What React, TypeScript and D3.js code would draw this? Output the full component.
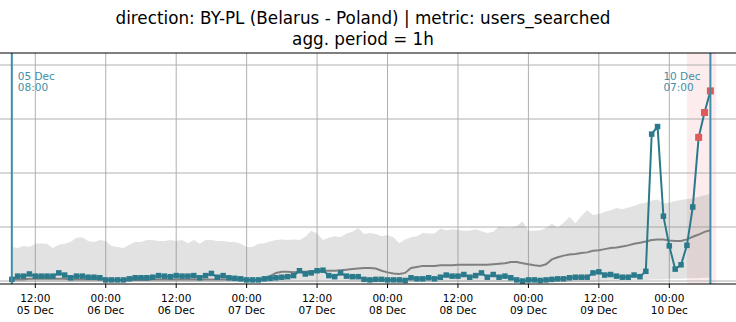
import React from "react";
import * as d3 from "d3";

const W = 736;
const H = 322;

const TITLE_LINES = [
  "direction: BY-PL (Belarus - Poland) | metric: users_searched",
  "agg. period = 1h",
];

// hourly series starting 05 Dec 08:00
const START_TIME = Date.UTC(2024, 11, 5, 8);
const HOUR = 3600 * 1000;

const actualValues = [
  3, 9, 9, 13, 9, 9, 9, 9, 15, 11,
  6, 9, 9, 7, 7, 6, 2, 2, 2, 2,
  4, 6, 6, 6, 7, 10, 9, 8, 10, 9,
  9, 10, 6, 10, 14, 7, 10, 6, 5, 4,
  2, 2, 2, 4, 5, 6, 7, 8, 10, 19,
  13, 15, 19, 20, 10, 8, 15, 9, 8, 8,
  3, 2, 3, 3, 2, 2, 2, 1, 6, 4,
  4, 6, 4, 7, 11, 9, 9, 12, 7, 10,
  15, 7, 12, 7, 9, 6, 2, 0, 2, 2,
  1, 2, 3, 4, 4, 6, 7, 7, 7, 15,
  17, 11, 12, 9, 7, 7, 11, 8, 18, 272,
  286, 120, 65, 22, 30, 66, 137, 266, 312, 352,
];

const expectedValues = [
  3, 3, 3, 4, 4, 4, 4, 4, 4, 4,
  3, 3, 3, 3, 3, 3, 3, 2, 2, 2,
  2, 2, 2, 2, 3, 3, 3, 3, 3, 3,
  3, 3, 3, 3, 3, 3, 3, 3, 3, 3,
  2, 2, 2, 3, 9, 15, 17, 17, 16, 17,
  17, 18, 18, 19, 19, 19, 20, 21, 22, 23,
  24, 24, 23, 19, 16, 14, 13, 15, 24, 26,
  28, 28, 28, 29, 29, 29, 30, 30, 30, 30,
  30, 30, 31, 32, 33, 35, 35, 33, 31, 29,
  28, 31, 40, 44, 47, 49, 50, 52, 53, 56,
  57, 59, 61, 62, 64, 66, 69, 71, 73, 76,
  77, 77, 75, 74, 74, 77, 82, 86, 91, 94,
];

const upperValues = [
  63, 61, 65, 63, 69, 70, 69, 61, 67, 69,
  72, 80, 81, 74, 72, 76, 74, 65, 63, 61,
  67, 72, 72, 76, 76, 74, 74, 76, 74, 76,
  70, 76, 69, 76, 76, 74, 74, 72, 72, 69,
  63, 63, 69, 70, 73, 76, 77, 76, 77, 76,
  82, 93, 88, 76, 80, 83, 81, 88, 91, 98,
  87, 89, 87, 83, 85, 81, 70, 77, 81, 83,
  89, 88, 88, 97, 94, 96, 95, 93, 93, 96,
  92, 89, 91, 101, 99, 99, 102, 110, 93, 93,
  94, 98, 106, 99, 108, 119, 107, 120, 131, 122,
  124, 128, 131, 135, 133, 136, 139, 143, 145, 149,
  151, 144, 145, 148, 150, 152, 153, 156, 159, 161,
];

const lowerValues = [
  -2, -2, -2, -2, -2, -2, -2, -2, -2, -2,
  -2, -2, -2, -2, -2, -2, -2, -2, -2, -2,
  -2, -2, -2, -2, -2, -2, -2, -2, -2, -2,
  -2, -2, -2, -2, -2, -2, -2, -2, -2, -2,
  -2, -2, -2, -2, -2, -2, -2, -2, -2, -2,
  -2, -2, -2, -2, -2, -2, -2, -2, -2, -2,
  -2, -2, -2, -2, -2, -2, -2, -2, -2, -2,
  -2, -2, -2, -2, -2, -2, -2, -2, -2, -2,
  -2, -2, -2, -2, -2, -2, -2, -2, -2, -2,
  -2, -2, -2, -2, -2, -2, -2, -2, -2, -2,
  -1, -1, 0, 0, 1, 1, 2, 2, 2, 3,
  3, 3, 4, 4, 4, 5, 5, 5, 6, 6,
];

const anomalyIndices = [117, 118, 119];

const highlightStart = Date.UTC(2024, 11, 10, 3);
const highlightEnd = Date.UTC(2024, 11, 10, 8);
const windowStart = Date.UTC(2024, 11, 5, 8);
const windowEnd = Date.UTC(2024, 11, 10, 7);
const windowLabels = [
  ["05 Dec", "08:00"],
  ["10 Dec", "07:00"],
];

const yGridValues = [0, 100, 200, 300, 400];

const FONT = "DejaVu Sans, sans-serif";
const TEAL = "#2b7a8c";
const LINE_TEAL = "#3f8ea6";
const RED = "#e05a5a";

export default function App() {
  const times = actualValues.map((_, i) => new Date(START_TIME + i * HOUR));

  const x = d3
    .scaleUtc()
    .domain([new Date(Date.UTC(2024, 11, 5, 12)), new Date(Date.UTC(2024, 11, 10, 0))])
    .range([35.3, 669.3]);
  const y = d3.scaleLinear().domain([0, 400]).range([281, 65]);

  const plotTop = 53;
  const plotBottom = 284;

  const ticks = x.ticks(d3.utcHour.every(12));
  const fmtTime = d3.utcFormat("%H:%M");
  const fmtDay = d3.utcFormat("%d %b");

  const area = d3
    .area<number>()
    .x((_, i) => x(times[i]))
    .y0((_, i) => y(lowerValues[i]))
    .y1((_, i) => y(upperValues[i]));

  const line = d3
    .line<number>()
    .x((_, i) => x(times[i]))
    .y((d) => y(d));

  const xs = x(new Date(windowStart));
  const xe = x(new Date(windowEnd));

  return (
    <svg
      width={W}
      height={H}
      style={{ position: "absolute", left: 0, top: 0, background: "#fff" }}
      fontFamily={FONT}
    >
      <rect x={0} y={0} width={W} height={H} fill="#fff" />
      {TITLE_LINES.map((t, i) => (
        <text key={i} x={363} y={24 + i * 21} textAnchor="middle" fontSize={16.8} fill="#000">
          {t}
        </text>
      ))}
      <defs>
        <clipPath id="plotclip">
          <rect x={0} y={plotTop} width={W} height={plotBottom - plotTop} />
        </clipPath>
      </defs>
      <g clipPath="url(#plotclip)">
        <rect
          x={x(new Date(highlightStart))}
          y={plotTop}
          width={x(new Date(highlightEnd)) - x(new Date(highlightStart))}
          height={plotBottom - plotTop}
          fill="rgba(225,70,80,0.1)"
        />
        {ticks.map((t, i) => (
          <line key={"vg" + i} x1={x(t)} x2={x(t)} y1={plotTop} y2={plotBottom} stroke="#b0b0b0" strokeWidth={1} />
        ))}
        {yGridValues.map((v, i) => (
          <line key={"hg" + i} x1={0} x2={W} y1={y(v)} y2={y(v)} stroke="#b0b0b0" strokeWidth={1} />
        ))}
        <path d={area(actualValues) || ""} fill="rgba(128,128,128,0.23)" stroke="none" />
        <path d={line(expectedValues) || ""} fill="none" stroke="#808080" strokeWidth={2} />
        <path d={line(actualValues) || ""} fill="none" stroke={TEAL} strokeWidth={2} />
        {actualValues.map((v, i) =>
          anomalyIndices.includes(i) ? null : (
            <rect key={"m" + i} x={x(times[i]) - 2.75} y={y(v) - 2.75} width={5.5} height={5.5} fill={TEAL} />
          )
        )}
        {anomalyIndices.map((i) => (
          <rect key={"a" + i} x={x(times[i]) - 3.5} y={y(actualValues[i]) - 3.5} width={7} height={7} fill={RED} />
        ))}
        <line x1={xs} x2={xs} y1={plotTop} y2={plotBottom} stroke={LINE_TEAL} strokeWidth={2} />
        <line x1={xe} x2={xe} y1={plotTop} y2={plotBottom} stroke={LINE_TEAL} strokeWidth={2} />
        {windowLabels[0].map((t, i) => (
          <text key={"wl0" + i} x={xs + 6} y={80 + i * 10.5} fontSize={10.5} fill={LINE_TEAL}>
            {t}
          </text>
        ))}
        {windowLabels[1].map((t, i) => (
          <text key={"wl1" + i} x={xe - 47} y={80 + i * 10.5} fontSize={10.5} fill={LINE_TEAL}>
            {t}
          </text>
        ))}
      </g>
      <line x1={0} x2={W} y1={plotTop} y2={plotTop} stroke="#000" strokeWidth={1.2} />
      <line x1={0} x2={W} y1={plotBottom} y2={plotBottom} stroke="#000" strokeWidth={1.2} />
      {ticks.map((t, i) => (
        <g key={"t" + i}>
          <line x1={x(t)} x2={x(t)} y1={plotBottom} y2={plotBottom + 4} stroke="#000" strokeWidth={1} />
          <text x={x(t)} y={302} textAnchor="middle" fontSize={10.5} fill="#000">
            {fmtTime(t)}
          </text>
          <text x={x(t)} y={314} textAnchor="middle" fontSize={10.5} fill="#000">
            {fmtDay(t)}
          </text>
        </g>
      ))}
    </svg>
  );
}
